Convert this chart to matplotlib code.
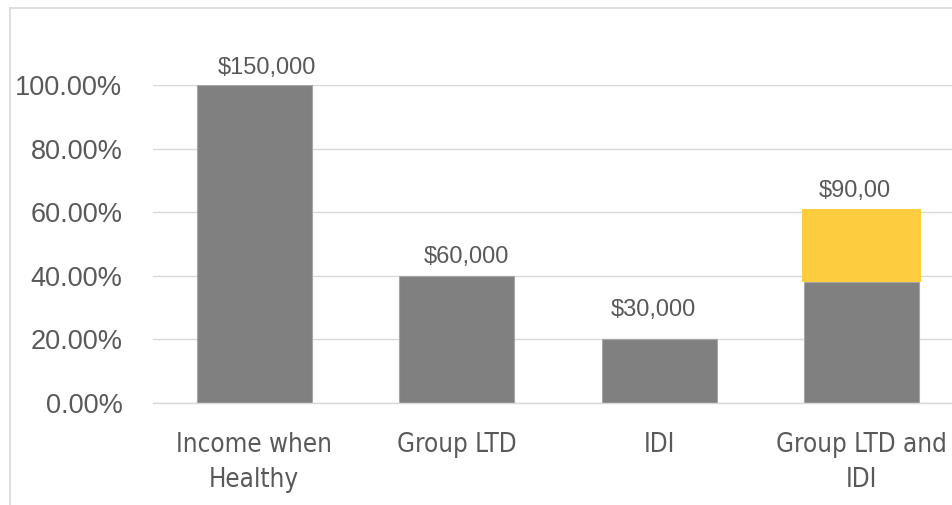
import matplotlib.pyplot as plt
import matplotlib.ticker as mtick
from matplotlib.lines import Line2D

categorias = ["Income when\nHealthy", "Group LTD", "IDI", "Group LTD and\nIDI"]
base = [1.00, 0.40, 0.20, 0.38]
extra = [0.0, 0.0, 0.0, 0.23]
rotulos = ["$150,000", "$60,000", "$30,000", "$90,00"]
yticks = [0.0, 0.2, 0.4, 0.6, 0.8, 1.0]

cinza = "#808080"
amarelo = "#FDCD3F"
grade = "#D9D9D9"
texto = "#595959"

fig = plt.figure(figsize=(9.53, 5.05), dpi=100)
fig.patch.set_facecolor("white")
ax = fig.add_axes([153 / 953, 102 / 505, 810 / 953, 318 / 505])

x = range(len(categorias))
ax.bar(x, base, width=0.57, color=cinza, edgecolor="#A6A6A6", linewidth=0.8, zorder=3)
topo = [b + e for b, e in zip(base, extra)]
for i, e in enumerate(extra):
    if e > 0:
        ax.bar(i, e, bottom=base[i], width=0.59, color=amarelo, edgecolor="none", zorder=3)

# rotulos deslocados como no original
desloc_x = [0.065, 0.05, -0.027, -0.035]
desloc_y = [0.053, 0.06, 0.091, 0.057]
for i, r in enumerate(rotulos):
    ax.text(i + desloc_x[i], topo[i] + desloc_y[i], r, ha="center", va="center",
            fontsize=17, color=texto, family=["Liberation Sans", "DejaVu Sans"],
            clip_on=False)

ax.set_xlim(-0.5, len(categorias) - 0.5)
ax.set_ylim(0, 1.0)
ax.set_yticks(yticks)
ax.yaxis.set_major_formatter(mtick.FuncFormatter(lambda v, _: f"{v * 100:.2f}%"))
ax.set_xticks(list(x))
ax.set_xticklabels(categorias, linespacing=1.45)

for lbl in ax.get_yticklabels():
    lbl.set_family(["Liberation Sans", "DejaVu Sans"])
    lbl.set_fontsize(19.5)
    lbl.set_color(texto)
for lbl in ax.get_xticklabels():
    lbl.set_family(["DejaVu Sans"])
    lbl.set_fontstretch("condensed")
    lbl.set_fontsize(18.6)
    lbl.set_color(texto)

ax.tick_params(axis="y", length=0, pad=22)
ax.tick_params(axis="x", length=0, pad=21)
ax.grid(axis="y", color=grade, linewidth=1.0, zorder=0)
ax.set_axisbelow(True)
for lado in ["top", "right", "left"]:
    ax.spines[lado].set_visible(False)
ax.spines["bottom"].set_color(grade)
ax.spines["bottom"].set_linewidth(1.0)
ax.spines["bottom"].set_zorder(4)

# moldura do grafico
fig.add_artist(Line2D([10 / 953, 1.0], [1 - 8 / 505, 1 - 8 / 505],
                      transform=fig.transFigure, color=grade, linewidth=1.2))
fig.add_artist(Line2D([10 / 953, 10 / 953], [0, 1 - 8 / 505],
                      transform=fig.transFigure, color=grade, linewidth=1.2))

fig.savefig("out.png", dpi=100)
